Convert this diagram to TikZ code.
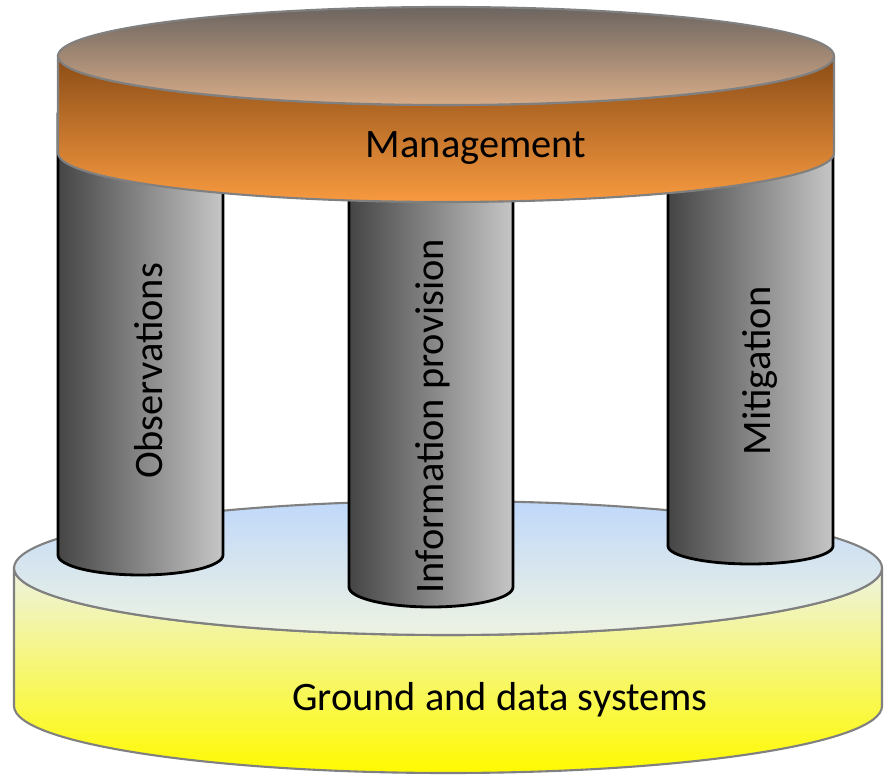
\documentclass[tikz,border=0pt]{standalone}
\usepackage{fontspec}
\setmainfont{Carlito}
\usepackage{tikz}
\definecolor{lidtop}{HTML}{6C6560}
\definecolor{lidbot}{HTML}{D8AC88}
\definecolor{bandtop}{HTML}{8A4C16}
\definecolor{bandbot}{HTML}{F89A40}
\definecolor{postdark}{HTML}{454545}
\definecolor{postlight}{HTML}{C6C6C6}
\definecolor{basetop}{HTML}{C0D8FA}
\definecolor{basemid}{HTML}{EEF3E2}
\definecolor{basebot}{HTML}{FFFA00}

\begin{document}
\begin{tikzpicture}[
  post/.style={draw=black,line width=0.8pt,left color=postdark,right color=postlight},
  lbl/.style={font=\fontsize{11.5}{14}\selectfont}]
\useasboundingbox (0,0) rectangle (8.84,7.74);
% base disk
\draw[gray,line width=0.6pt,top color=basemid,bottom color=basebot] (0.14,2.06)--(0.14,0.68) arc[start angle=180,end angle=360,x radius=4.34,y radius=0.67]--(8.82,2.06) arc[start angle=0,end angle=-180,x radius=4.34,y radius=0.67]--cycle;
\draw[gray,line width=0.6pt,top color=basetop,bottom color=basemid] (4.48,2.06) ellipse[x radius=4.34,y radius=0.67];
\node[lbl] (base) at (5.00,0.74) {Ground and data systems};
% pillars
\draw[post] (0.58,6.6)--(0.58,2.19) arc[start angle=180,end angle=360,x radius=0.825,y radius=0.2]--(2.23,6.6)--cycle;
\draw[post] (3.49,6.6)--(3.49,1.87) arc[start angle=180,end angle=360,x radius=0.82,y radius=0.2]--(5.13,6.6)--cycle;
\draw[post] (6.68,6.6)--(6.68,2.28) arc[start angle=180,end angle=360,x radius=0.825,y radius=0.18]--(8.33,6.6)--cycle;
\node[lbl,rotate=90] (obs) at (1.49,4.03) {Observations};
\node[lbl,rotate=90] (info) at (4.33,3.58) {Information provision};
\node[lbl,rotate=90] (mit) at (7.60,4.03) {Mitigation};
% top disk
\draw[gray,line width=0.6pt,top color=bandtop,bottom color=bandbot] (0.58,7.18)--(0.58,6.21) arc[start angle=180,end angle=360,x radius=3.88,y radius=0.49]--(8.34,7.18) arc[start angle=0,end angle=-180,x radius=3.88,y radius=0.49]--cycle;
\draw[gray,line width=0.6pt,top color=lidtop,bottom color=lidbot] (4.46,7.18) ellipse[x radius=3.88,y radius=0.49];
\node[lbl] (mgmt) at (4.76,6.26) {Management};
\end{tikzpicture}
\end{document}
